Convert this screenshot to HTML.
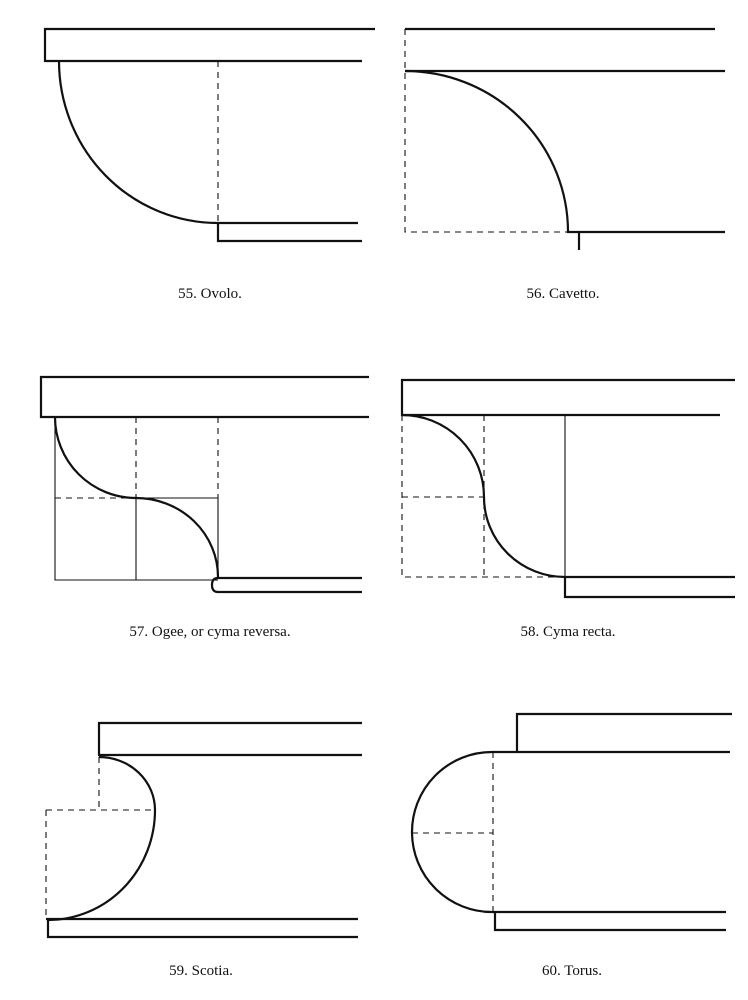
<!DOCTYPE html>
<html><head><meta charset="utf-8"><style>
html,body{margin:0;padding:0;background:#fff;}
svg{display:block}
text{font-family:"Liberation Serif",serif;font-size:15px;fill:#111;}
</style></head><body>
<svg width="748" height="1000" viewBox="0 0 748 1000" xmlns="http://www.w3.org/2000/svg">
<g fill="none" stroke="#111" stroke-width="2.2">
<!-- 55 -->
<path d="M375 29 H45 V61 H362"/>
<path d="M59 61 A159 162 0 0 0 218 223 H358"/>
<path d="M218 223 V241 H362"/>
<!-- 56 -->
<path d="M405 29 H715"/>
<path d="M405 71 H725"/>
<path d="M405 71 A163 161 0 0 1 568 232 H725"/>
<path d="M579 232 V250"/>
<!-- 57 -->
<path d="M369 377 H41 V417 H369"/>
<path d="M55 417 A81 81 0 0 0 136 498 A82 79 0 0 1 218 577"/>
<path d="M218 578 H362"/>
<path d="M218 578 Q212 578 212 585 Q212 592 218 592 H362"/>
<!-- 58 -->
<path d="M735 380 H402 V415 H720"/>
<path d="M402 415 A82 82 0 0 1 484 497 A81 80 0 0 0 565 577 H735"/>
<path d="M565 577 V597 H735"/>
<!-- 59 -->
<path d="M362 723 H99 V755 H362"/>
<path d="M99 757 A56 53 0 0 1 155 810 A107 110 0 0 1 48 920"/>
<path d="M46 919 H358"/>
<path d="M48 919 V937 H358"/>
<!-- 60 -->
<path d="M732 714 H517 V752"/>
<path d="M730 752 H492 A80 80 0 0 0 412 833 A80 80 0 0 0 492 912 H726"/>
<path d="M495 912 V930 H726"/>
</g>
<g fill="none" stroke="#111" stroke-width="1.1">
<!-- solid thin -->
<path d="M55 417 V580 H218"/>
<path d="M136 498 V580"/>
<path d="M218 498 V577"/>
<path d="M136 498 H218"/>
<path d="M565 415 V577"/>
</g>
<g fill="none" stroke="#111" stroke-width="1.1" stroke-dasharray="6,5">
<path d="M218 61 V223"/>
<path d="M405 29 V232 H568"/>
<path d="M136 417 V498"/>
<path d="M218 417 V498"/>
<path d="M55 498 H136"/>
<path d="M484 415 V577"/>
<path d="M402 497 H484"/>
<path d="M402 415 V577 H565"/>
<path d="M99 757 V810"/>
<path d="M46 810 H155"/>
<path d="M46 810 V919"/>
<path d="M493 752 V912"/>
<path d="M412 833 H493"/>
</g>
<text x="210" y="298" text-anchor="middle">55. Ovolo.</text>
<text x="563" y="298" text-anchor="middle">56. Cavetto.</text>
<text x="210" y="636" text-anchor="middle">57. Ogee, or cyma reversa.</text>
<text x="568" y="636" text-anchor="middle">58. Cyma recta.</text>
<text x="201" y="975" text-anchor="middle">59. Scotia.</text>
<text x="572" y="975" text-anchor="middle">60. Torus.</text>
</svg>
</body></html>
